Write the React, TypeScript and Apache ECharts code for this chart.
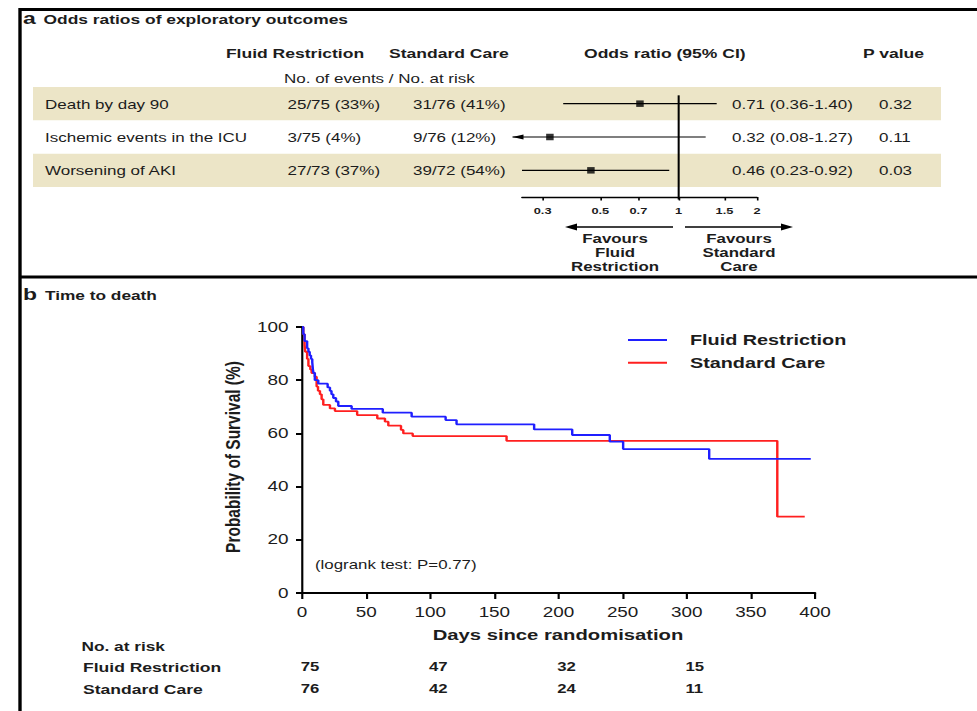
import React, { useEffect, useRef } from 'react';
import * as echarts from 'echarts';

// The reference image is horizontally stretched; we draw in an inner space and scale it with CSS.
const W = 724;
const H = 711;
const S = 977 / W;
const X = (p: number) => p / S;
const FONT = '"Liberation Sans", Arial, Helvetica, sans-serif';
const INK = '#1c1c1c';

// ---------- Panel a: odds ratios ----------
const outcomes = ['Death by day 90', 'Ischemic events in the ICU', 'Worsening of AKI'];
const frEvents = [25, 3, 27];
const frAtRisk = [75, 75, 73];
const frPct = [33, 4, 37];
const scEvents = [31, 9, 39];
const scAtRisk = [76, 76, 72];
const scPct = [41, 12, 54];
const oddsRatio = [0.71, 0.32, 0.46];
const ciLow = [0.36, 0.08, 0.23];
const ciHigh = [1.4, 1.27, 0.92];
const pValues = ['0.32', '0.11', '0.03'];
const shadedRows = [0, 2];
const orTicks = [0.3, 0.5, 0.7, 1, 1.5, 2];
const OR_MIN = 0.25;
const OR_MAX = 2;

// ---------- Panel b: Kaplan-Meier ----------
const seriesNames = ['Fluid Restriction', 'Standard Care'];
const frCurve: number[][] = [
  [0, 100], [1, 97.3], [2, 94.7], [4, 92], [5, 90.7], [6, 89.3], [7, 88], [8, 86.7], [8.5, 84],
  [9, 82.7], [10, 80], [12.7, 78.7], [20, 77.3], [21.8, 76], [23, 74.7], [24.4, 73.3], [26.5, 72],
  [28.3, 70.3], [38.7, 69.2], [63, 67.8], [85.5, 66.3], [112, 65], [120.5, 63.4], [181, 61.5],
  [210.7, 59.4], [240, 56.9], [250.4, 54.1], [317.5, 50.4], [396.7, 50.4],
];
const scCurve: number[][] = [
  [0, 100], [1, 97.3], [2, 93.3], [2.5, 90.7], [4, 88], [5, 85.3], [6.5, 84], [7.5, 82.7], [10, 81.3],
  [11.4, 77.6], [12.5, 76], [14, 74.7], [15.3, 72.8], [16.6, 70.7], [21.8, 69.4], [25.7, 68.4],
  [43, 66.9], [58.7, 65.6], [64.7, 64.4], [67.3, 62.9], [77.2, 61.3], [79, 60], [86.3, 59],
  [159.5, 57.2], [370.6, 28.7], [392, 28.7],
];
const riskDays = [0, 100, 200, 300];
const riskFR = [75, 47, 32, 15];
const riskSC = [76, 42, 24, 11];
const dayMax = 400;
const dayStep = 50;
const survStep = 20;

const lg = (v: number) => Math.log10(v);

function txt(x: number, y: number, t: string, size: number, weight: string = 'normal', align: string = 'left', extra: any = {}) {
  return {
    type: 'text', x, y, silent: true, ...extra,
    style: {
      text: t, fill: INK, fontSize: size, fontWeight: weight, fontFamily: FONT,
      align, textAlign: align, verticalAlign: 'middle', textVerticalAlign: 'middle',
    },
  };
}
function ln(x1: number, y1: number, x2: number, y2: number, w = 1.5) {
  return { type: 'line', silent: true, shape: { x1, y1, x2, y2 }, style: { stroke: '#000', lineWidth: w } };
}
function tri(points: number[][]) {
  return { type: 'polygon', silent: true, shape: { points }, style: { fill: '#000' } };
}

function buildOption() {
  const forestRows = outcomes.map((_, i) => [lg(oddsRatio[i]), i, lg(ciLow[i]), lg(ciHigh[i])]);

  const graphic: any[] = [
    // frame
    ln(X(20), 8, X(20), H, 2.5),
    ln(X(19), 9.5, W, 9.5, 3),
    ln(X(19), 277, W, 277, 3),
    // panel a titles
    txt(X(23), 18.5, 'a', 17, 'bold'),
    txt(X(43.5), 19.5, 'Odds ratios of exploratory outcomes', 12.9, 'bold'),
    txt(X(295), 53, 'Fluid Restriction', 13, 'bold', 'center'),
    txt(X(389), 53, 'Standard Care', 13, 'bold'),
    txt(X(584), 53, 'Odds ratio (95% CI)', 13, 'bold'),
    txt(X(863), 53, 'P value', 13, 'bold'),
    txt(X(284), 78.5, 'No. of events / No. at risk', 12.6),
    // favours arrows
    ln(X(576), 227, X(673), 227, 1.5),
    tri([[X(565), 227], [X(577), 223.5], [X(577), 230.5]]),
    ln(X(685), 227, X(782), 227, 1.5),
    tri([[X(793), 227], [X(781), 223.5], [X(781), 230.5]]),
    txt(X(615), 238.5, 'Favours', 12.5, 'bold', 'center'),
    txt(X(615), 252.5, 'Fluid', 12.5, 'bold', 'center'),
    txt(X(615), 266.5, 'Restriction', 12.5, 'bold', 'center'),
    txt(X(739), 238.5, 'Favours', 12.5, 'bold', 'center'),
    txt(X(739), 252.5, 'Standard', 12.5, 'bold', 'center'),
    txt(X(739), 266.5, 'Care', 12.5, 'bold', 'center'),
    // panel b titles
    txt(X(23), 294, 'b', 17, 'bold'),
    txt(X(45), 295.5, 'Time to death', 12.8, 'bold'),
    txt(X(233), 457, 'Probability of Survival (%)', 15.5, 'bold', 'center', { rotation: Math.PI / 2 }),
    txt(X(558), 634.5, 'Days since randomisation', 15, 'bold', 'center'),
    txt(X(315), 564.5, '(logrank test: P=0.77)', 12.5),
    txt(X(81.5), 646.5, 'No. at risk', 12.8, 'bold'),
    txt(X(83), 667, seriesNames[0], 13, 'bold'),
    txt(X(83), 689, seriesNames[1], 13, 'bold'),
  ];

  return {
    animation: false,
    backgroundColor: '#fff',
    textStyle: { fontFamily: FONT },
    graphic,
    legend: {
      data: seriesNames,
      orient: 'vertical',
      left: X(628),
      top: 332,
      padding: 0,
      itemWidth: X(39),
      itemHeight: 2,
      itemGap: 6.7,
      icon: 'rect',
      textStyle: { fontSize: 14.7, fontWeight: 'bold', color: INK, fontFamily: FONT, lineHeight: 16, padding: [0, 0, 0, 12] },
    },
    grid: [
      { left: X(522), right: W - X(757), top: 87, bottom: H - 197 },
      { left: X(302), right: W - X(815), top: 327, bottom: H - 593 },
    ],
    xAxis: [
      {
        gridIndex: 0, type: 'value', min: lg(OR_MIN), max: lg(OR_MAX), position: 'bottom', z: 6,
        axisLine: { show: true, onZero: false, lineStyle: { color: '#000', width: 1.3 } },
        axisTick: { show: true, customValues: orTicks.map(lg), length: 3.5, lineStyle: { color: '#000', width: 1.2 } },
        axisLabel: {
          show: true, customValues: orTicks.map(lg), margin: 8.5,
          fontSize: 9.5, fontWeight: 'bold', color: INK, fontFamily: FONT,
          formatter: (v: number) => {
            const t = orTicks.find((k) => Math.abs(lg(k) - v) < 1e-6);
            return t == null ? '' : String(t);
          },
        },
        splitLine: { show: false },
      },
      {
        gridIndex: 1, type: 'value', min: 0, max: dayMax, interval: dayStep,
        axisLine: { show: true, onZero: false, lineStyle: { color: '#000', width: 2 } },
        axisTick: { show: true, length: 6, lineStyle: { color: '#000', width: 1.6 } },
        axisLabel: { fontSize: 14, color: INK, fontFamily: FONT, margin: 12 },
        splitLine: { show: false },
      },
    ],
    yAxis: [
      { gridIndex: 0, type: 'value', min: -0.5, max: 2.8, inverse: true, show: false },
      {
        gridIndex: 1, type: 'value', min: 0, max: 100, interval: survStep,
        axisLine: { show: true, onZero: false, lineStyle: { color: '#000', width: 1.6 } },
        axisTick: { show: true, length: X(6), lineStyle: { color: '#000', width: 2 } },
        axisLabel: { fontSize: 14, color: INK, fontFamily: FONT, margin: 10 },
        splitLine: { show: false },
      },
    ],
    series: [
      // shaded bands
      {
        type: 'custom', xAxisIndex: 0, yAxisIndex: 0, z: 1, silent: true, clip: false,
        data: shadedRows.map((r) => [0, r]),
        renderItem: (_p: any, api: any) => {
          const r = api.value(1);
          const top = api.coord([0, r - 0.5])[1];
          const bot = api.coord([0, r + 0.5])[1];
          return { type: 'rect', shape: { x: X(33), y: top, width: X(941) - X(33), height: bot - top }, style: { fill: '#ece5c7' } };
        },
      },
      // row texts
      {
        type: 'custom', xAxisIndex: 0, yAxisIndex: 0, z: 3, silent: true, clip: false,
        data: forestRows,
        renderItem: (_p: any, api: any) => {
          const i = api.value(1);
          const y = api.coord([0, i])[1] + 0.5;
          const st = (t: string) => ({ text: t, fill: INK, fontSize: 12.6, fontFamily: FONT, align: 'left', textAlign: 'left', verticalAlign: 'middle', textVerticalAlign: 'middle' });
          return {
            type: 'group',
            children: [
              { type: 'text', x: X(45), y, style: st(outcomes[i]) },
              { type: 'text', x: X(287.5), y, style: st(`${frEvents[i]}/${frAtRisk[i]} (${frPct[i]}%)`) },
              { type: 'text', x: X(413), y, style: st(`${scEvents[i]}/${scAtRisk[i]} (${scPct[i]}%)`) },
              { type: 'text', x: X(732), y, style: st(`${oddsRatio[i].toFixed(2)} (${ciLow[i].toFixed(2)}-${ciHigh[i].toFixed(2)})`) },
              { type: 'text', x: X(879), y, style: st(pValues[i]) },
            ],
          };
        },
      },
      // reference line at OR = 1
      {
        type: 'custom', xAxisIndex: 0, yAxisIndex: 0, z: 3, silent: true, clip: false,
        data: [[lg(1), 0]],
        renderItem: (_p: any, api: any) => {
          const a = api.coord([api.value(0), -0.25]);
          const b = api.coord([api.value(0), 2.8]);
          return { type: 'line', shape: { x1: a[0], y1: a[1], x2: b[0], y2: b[1] + 2.5 }, style: { stroke: '#000', lineWidth: 1.5 } };
        },
      },
      // confidence intervals
      {
        type: 'custom', xAxisIndex: 0, yAxisIndex: 0, z: 4, silent: true, clip: false,
        data: forestRows,
        renderItem: (_p: any, api: any) => {
          const row = api.value(1);
          const lo = api.value(2);
          const hi = api.value(3);
          const xmin = lg(OR_MIN);
          const y = api.coord([0, row])[1];
          const xLo = api.coord([Math.max(lo, xmin), row])[0];
          const xHi = api.coord([hi, row])[0];
          const children: any[] = [
            { type: 'line', shape: { x1: xLo, y1: y, x2: xHi, y2: y }, style: { stroke: '#000', lineWidth: 1.1 } },
          ];
          if (lo < lg(OR_MIN * 0.5)) {
            const tip = xLo - X(9.5);
            children.push({ type: 'line', shape: { x1: tip, y1: y, x2: xLo, y2: y }, style: { stroke: '#000', lineWidth: 1.1 } });
            children.push({ type: 'polygon', shape: { points: [[tip, y], [tip + X(11), y - 2.6], [tip + X(11), y + 2.6]] }, style: { fill: '#000' } });
          }
          return { type: 'group', children };
        },
      },
      // point estimates
      {
        type: 'scatter', xAxisIndex: 0, yAxisIndex: 0, z: 5, silent: true,
        symbol: 'rect', symbolSize: [X(7.5), 6.5],
        itemStyle: { color: '#000' },
        data: forestRows.map((r) => [r[0], r[1]]),
      },
      // KM curves
      {
        name: seriesNames[0], type: 'line', xAxisIndex: 1, yAxisIndex: 1, step: 'end',
        showSymbol: false, symbol: 'none', z: 4,
        lineStyle: { color: '#1f1fff', width: 1.8 }, itemStyle: { color: '#1f1fff' },
        data: frCurve,
      },
      {
        name: seriesNames[1], type: 'line', xAxisIndex: 1, yAxisIndex: 1, step: 'end',
        showSymbol: false, symbol: 'none', z: 3,
        lineStyle: { color: '#ff1f1f', width: 1.8 }, itemStyle: { color: '#ff1f1f' },
        data: scCurve,
      },
      // number at risk
      {
        type: 'custom', xAxisIndex: 1, yAxisIndex: 1, z: 3, silent: true, clip: false,
        data: riskDays.map((d, i) => [d, 0, riskFR[i], riskSC[i]]),
        renderItem: (_p: any, api: any) => {
          const x = api.coord([api.value(0), 0])[0] - 1;
          const st = (t: string) => ({ text: t, fill: INK, fontSize: 12.4, fontWeight: 'bold', fontFamily: FONT, align: 'left', textAlign: 'left', verticalAlign: 'middle', textVerticalAlign: 'middle' });
          return {
            type: 'group',
            children: [
              { type: 'text', x, y: 667, style: st(String(api.value(2))) },
              { type: 'text', x, y: 689, style: st(String(api.value(3))) },
            ],
          };
        },
      },
    ],
  };
}

export default function App() {
  const ref = useRef<HTMLDivElement>(null);
  useEffect(() => {
    if (!ref.current) return;
    const chart = echarts.init(ref.current, null, { renderer: 'svg', width: W, height: H });
    chart.setOption(buildOption() as any);
    return () => chart.dispose();
  }, []);
  return (
    <div
      ref={ref}
      style={{
        position: 'absolute', left: 0, top: 0, width: W, height: H,
        transform: `scaleX(${S})`, transformOrigin: '0 0', background: '#fff',
      }}
    />
  );
}
